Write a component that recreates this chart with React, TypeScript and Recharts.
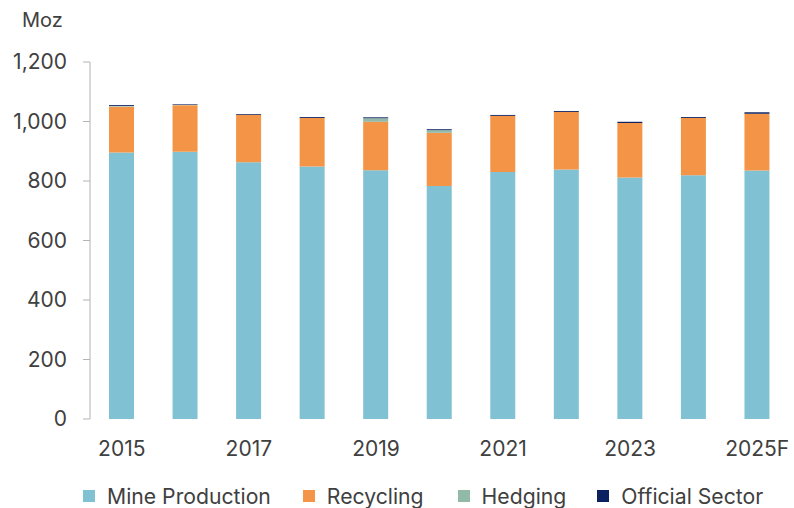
import { Bar, BarChart, XAxis, YAxis } from "recharts";

const years = ["2015", "2016", "2017", "2018", "2019", "2020", "2021", "2022", "2023", "2024", "2025F"];
const mineProduction = [896, 898, 863, 849, 836, 783, 830, 839, 812, 819, 835];
const recycling = [154, 157, 160, 163, 163, 179, 189, 193, 183, 193, 191];
const hedging = [2, 1, 0, 0, 12, 9, 0, 0, 0, 0, 0];
const officialSector = [3, 2, 2, 3, 3, 3, 3, 3, 4, 3, 5];
const yTicks = [0, 200, 400, 600, 800, 1000, 1200];

const series = [
  { key: "mine", name: "Mine Production", color: "#80C2D3" },
  { key: "recycling", name: "Recycling", color: "#F39447" },
  { key: "hedging", name: "Hedging", color: "#93B9A8" },
  { key: "official", name: "Official Sector", color: "#0B2160" },
];

const data = years.map((year, i) => ({
  year,
  mine: mineProduction[i],
  recycling: recycling[i],
  hedging: hedging[i],
  official: officialSector[i],
}));

const textColor = "#404040";
const font = "Inter, Roboto, sans-serif";
const legendGaps = [32, 34, 31, 0];

export default function App() {
  return (
    <div style={{ position: "absolute", left: 0, top: 0, width: 794, height: 508, background: "#fff", fontFamily: font, overflow: "hidden" }}>
      <div style={{ position: "absolute", left: 22, top: 8, fontSize: 20, color: textColor }}>Moz</div>
      <BarChart
        width={794}
        height={508}
        data={data}
        margin={{ top: 62, right: 5, left: 0, bottom: 49 }}
        barSize={25}
      >
        <XAxis
          dataKey="year"
          axisLine={false}
          tickLine={false}
          interval={1}
          height={40}
          tickMargin={16}
          tick={{ fill: textColor, fontSize: 21, fontFamily: font }}
        />
        <YAxis
          width={90}
          domain={[0, 1200]}
          ticks={yTicks}
          interval={0}
          axisLine={{ stroke: "#b3b3b3" }}
          tickLine={{ stroke: "#b3b3b3" }}
          tickSize={7}
          tickMargin={16}
          tickFormatter={(v) => Number(v).toLocaleString("en-US")}
          tick={{ fill: textColor, fontSize: 21, fontFamily: font }}
        />
        {series.map((s) => (
          <Bar key={s.key} dataKey={s.key} name={s.name} stackId="a" fill={s.color} isAnimationActive={false} />
        ))}
      </BarChart>
      <div
        style={{
          position: "absolute",
          left: 83,
          top: 483,
          width: 720,
          whiteSpace: "nowrap",
          display: "flex",
          alignItems: "center",
          fontSize: 21.2,
          lineHeight: "26px",
          color: textColor,
        }}
      >
        {series.map((s, i) => (
          <div key={s.key} style={{ display: "flex", alignItems: "center", flexShrink: 0, marginRight: legendGaps[i] }}>
            <span style={{ width: 12, height: 12, background: s.color, display: "inline-block", marginRight: 12 }} />
            <span>{s.name}</span>
          </div>
        ))}
      </div>
    </div>
  );
}
